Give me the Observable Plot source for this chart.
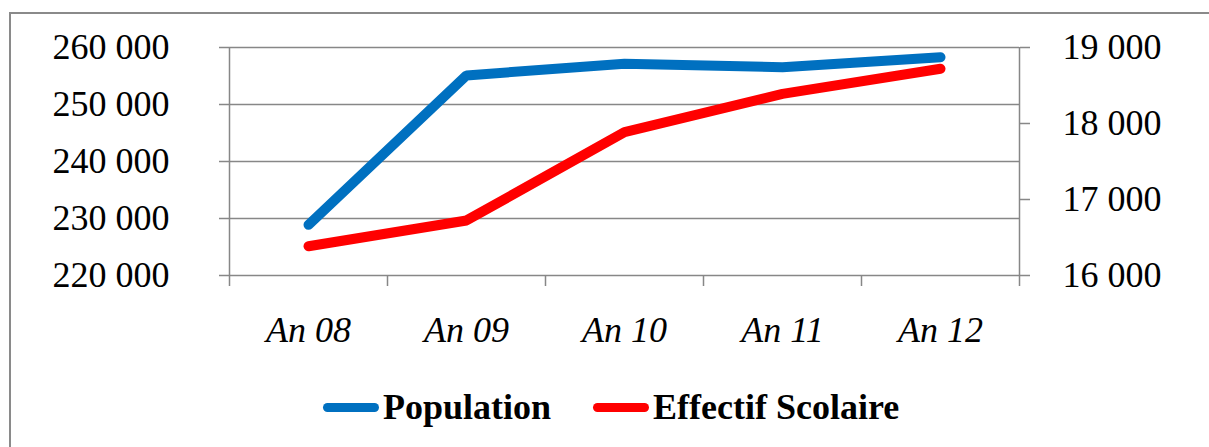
<!DOCTYPE html>
<html>
<head>
<meta charset="utf-8">
<script src="https://cdn.jsdelivr.net/npm/d3@7"></script>
<script src="https://cdn.jsdelivr.net/npm/@observablehq/plot@0.6"></script>
<style>
  html, body { margin: 0; padding: 0; background: #fff; overflow: hidden; width: 1209px; height: 447px; }
  #frame { position: absolute; left: 9px; top: 12px; width: 1300px; height: 500px; border: 2px solid #8a8a8a; box-sizing: border-box; }
  #chart { position: absolute; left: 0; top: 0; }
  #chart svg text { font-family: "Liberation Serif", "Times New Roman", serif !important; }
  #legend { position: absolute; left: 323px; top: 386px; display: flex; align-items: center; font-family: "Liberation Serif", "Times New Roman", serif; font-weight: bold; font-size: 36px; color: #000; }
  .sw { width: 56px; height: 9px; border-radius: 5px; margin-right: 4px; }
  .item { display: flex; align-items: center; }
</style>
</head>
<body>
<div id="frame"></div>
<div id="chart"></div>
<div id="legend"></div>
<script>
const years = ["An 08", "An 09", "An 10", "An 11", "An 12"];
const population = [228900, 255100, 257150, 256550, 258300];
const effectif = [16385, 16724, 17886, 18390, 18720];
const leftTicks = [220000, 230000, 240000, 250000, 260000];
const rightTicks = [16000, 17000, 18000, 19000];
const seriesNames = ["Population", "Effectif Scolaire"];
const seriesColors = ["#0070C0", "#FF0000"];

const leftDomain = [220000, 260000];
const rightDomain = [16000, 19000];
const toLeft = v => leftDomain[0] + (v - rightDomain[0]) * (leftDomain[1] - leftDomain[0]) / (rightDomain[1] - rightDomain[0]);
const fromLeft = v => rightDomain[0] + (v - leftDomain[0]) * (rightDomain[1] - rightDomain[0]) / (leftDomain[1] - leftDomain[0]);

const fr = d3.formatLocale({decimal: ",", thousands: " ", grouping: [3], currency: ["", ""]});
const fmt = fr.format(",");

const data = years.map((y, i) => ({year: y, i, pop: population[i], eff: toLeft(effectif[i])}));
const boundaries = d3.range(years.length + 1);
const gray = "#878787";
const serif = "Liberation Serif, Times New Roman, serif";

const plot = Plot.plot({
  width: 1209,
  height: 360,
  marginLeft: 229,
  marginRight: 190,
  marginTop: 47,
  marginBottom: 85,
  style: "font-family: 'Liberation Serif', 'Times New Roman', serif; font-size: 36px; color: #000; background: transparent; overflow: visible;",
  x: {domain: [0, years.length], label: null},
  y: {domain: leftDomain, label: null},
  marks: [
    Plot.ruleY(leftTicks, {y: d => d, stroke: gray, strokeWidth: 1.5}),
    Plot.ruleX([0, years.length], {x: d => d, y1: leftDomain[0], y2: leftDomain[1], stroke: gray, strokeWidth: 1.5}),
    Plot.axisX({ticks: boundaries, tickSize: 11, tickFormat: () => "", stroke: gray, strokeWidth: 1.5, label: null}),
    Plot.axisY({anchor: "left", ticks: leftTicks, tickSize: 10, tickPadding: 50, tickFormat: fmt, stroke: gray, strokeWidth: 1.5, fill: "#000", fontFamily: serif, fontSize: 36, label: null}),
    Plot.axisY({anchor: "right", ticks: rightTicks.map(toLeft), tickSize: 10, tickPadding: 33, tickFormat: d => fmt(Math.round(fromLeft(d))), stroke: gray, strokeWidth: 1.5, fill: "#000", fontFamily: serif, fontSize: 36, label: null}),
    Plot.text(data, {x: d => d.i + 0.5, y: () => leftDomain[0], text: "year", dy: 55, fontStyle: "italic", fontFamily: serif, fontSize: 36, fill: "#000"}),
    Plot.line(data, {x: d => d.i + 0.5, y: "pop", stroke: seriesColors[0], strokeWidth: 10, strokeLinecap: "round", strokeLinejoin: "miter"}),
    Plot.line(data, {x: d => d.i + 0.5, y: "eff", stroke: seriesColors[1], strokeWidth: 10, strokeLinecap: "round", strokeLinejoin: "miter"})
  ]
});
document.getElementById("chart").appendChild(plot);

const legend = document.getElementById("legend");
seriesNames.forEach((name, k) => {
  const item = document.createElement("div");
  item.className = "item";
  if (k > 0) item.style.marginLeft = "42px";
  const sw = document.createElement("div");
  sw.className = "sw";
  sw.style.background = seriesColors[k];
  const t = document.createElement("span");
  t.textContent = name;
  item.appendChild(sw);
  item.appendChild(t);
  legend.appendChild(item);
});
</script>
</body>
</html>
